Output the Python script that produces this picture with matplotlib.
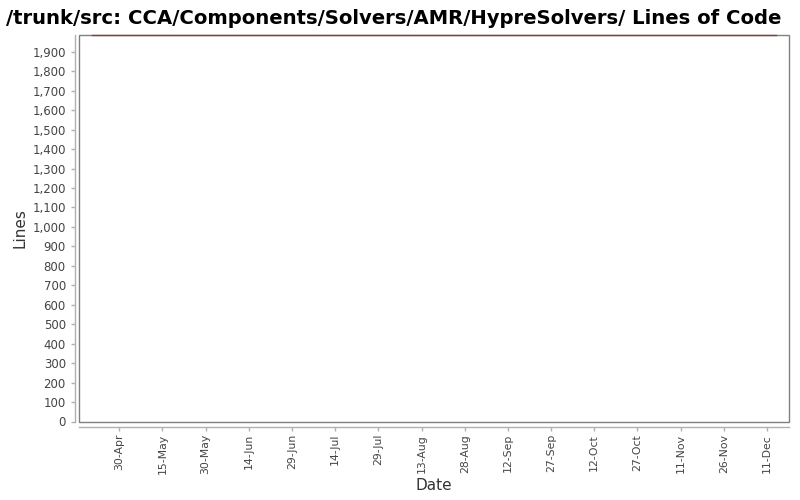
import matplotlib
matplotlib.use("Agg")
import matplotlib.pyplot as plt
import matplotlib.dates as mdates
from matplotlib.ticker import FuncFormatter, MultipleLocator
from matplotlib.patches import Rectangle
import datetime as dt

# Data
dates = [dt.datetime(2007, 4, 20, 12), dt.datetime(2007, 12, 14)]
lines_of_code = [1986, 1986]
x_range = [dt.datetime(2007, 4, 16), dt.datetime(2007, 12, 18, 12)]
y_range = [0, 1986]
tick_start = dt.datetime(2007, 4, 30)
title = "/trunk/src: CCA/Components/Solvers/AMR/HypreSolvers/ Lines of Code"

fig = plt.figure(figsize=(8, 5), dpi=100)
W, H = 800, 500
left, right, top, bottom = 79, 788.5, 35, 421.5
ax = fig.add_axes([left / W, 1 - bottom / H, (right - left) / W, (bottom - top) / H])

ax.plot(dates, lines_of_code, color="#8b3a3a", linewidth=1.0, clip_on=False, zorder=3)

ax.set_xlim(x_range)
ax.set_ylim(y_range)

ax.yaxis.set_major_locator(MultipleLocator(100))
ax.yaxis.set_major_formatter(FuncFormatter(lambda v, p: f"{int(v):,}"))
ticks = [tick_start + dt.timedelta(days=15 * i) for i in range(16)]
ax.set_xticks(ticks)
ax.xaxis.set_major_formatter(mdates.DateFormatter("%d-%b"))
ax.tick_params(axis="x", labelrotation=90, pad=2, labelsize=7.8)

for s in ["top", "right"]:
    ax.spines[s].set_visible(False)
ax.spines["left"].set_position(("outward", 3))
ax.spines["bottom"].set_position(("outward", 4))
for s in ["left", "bottom"]:
    ax.spines[s].set_color("#b0b0b0")
    ax.spines[s].set_linewidth(1.0)

ax.add_patch(Rectangle((0, 0), 1, 1, transform=ax.transAxes, fill=False,
                       edgecolor="#808080", linewidth=1.0, clip_on=False, zorder=2))

ax.tick_params(axis="both", colors="#b0b0b0", labelcolor="#444444",
               length=3, width=1, direction="out")
ax.tick_params(axis="y", labelsize=8.5)

fig.text(20 / W, 1 - 228 / H, "Lines", rotation=90, ha="center", va="center",
         fontsize=11, color="#333333")
fig.text(434 / W, 1 - 485 / H, "Date", ha="center", va="center",
         fontsize=11, color="#333333")

fig.text(393.5 / W, 1 - 18 / H, title, ha="center", va="center", fontsize=14.15,
         fontweight="bold", color="black")

fig.savefig("out.png", dpi=100)
